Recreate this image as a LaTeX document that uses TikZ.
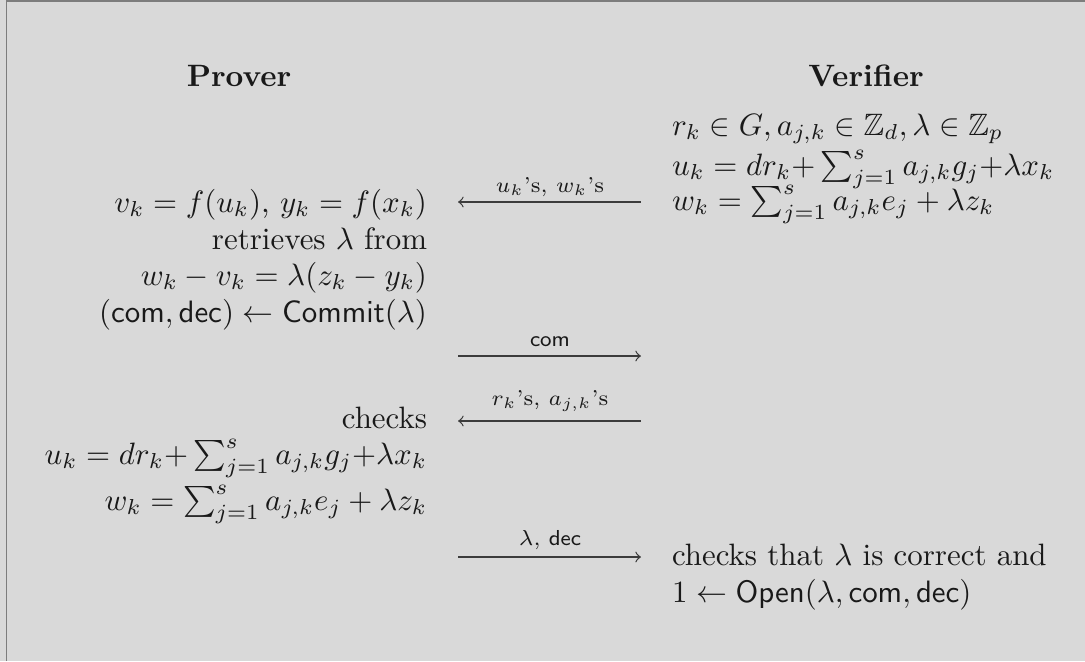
\documentclass[tikz,border=0pt]{standalone}
\usepackage{amsmath,amssymb}
\definecolor{bgcol}{RGB}{217,217,217}
\definecolor{framecol}{RGB}{125,125,125}
\definecolor{inkcol}{RGB}{25,25,25}
\definecolor{arrcol}{RGB}{60,60,60}
\begin{document}
\begin{tikzpicture}[x=0.3236pt,y=-0.3236pt,
  txt/.style={inner sep=0pt, outer sep=0pt, text=inkcol, font=\normalsize},
  lbl/.style={inner sep=0pt, outer sep=0pt, text=inkcol, font=\scriptsize, anchor=base},
  msg/.style={draw=arrcol, line width=0.4pt}]
\fill[bgcol] (0,0) rectangle (1085,661);
\useasboundingbox (0,0) rectangle (1085,661);
\draw[framecol, line width=0.55pt] (6.6,661) -- (6.6,0.9) -- (1085,0.9);
% headers
\node[txt, anchor=base] (prover) at (239,86) {\textbf{Prover}};
\node[txt, anchor=base] (verifier) at (866,86) {\textbf{Verifier}};
% prover column
\node[txt, anchor=base east] (p1) at (427,212) {$v_k = f(u_k)$, $y_k = f(x_k)$};
\node[txt, anchor=base east] (p2) at (427,249) {retrieves $\lambda$ from};
\node[txt, anchor=base east] (p3) at (427,285) {$w_k - v_k = \lambda(z_k - y_k)$};
\node[txt, anchor=base east] (p4) at (427,322) {$(\mathsf{com},\mathsf{dec}) \leftarrow \mathsf{Commit}(\lambda)$};
\node[txt, anchor=base east] (p5) at (427,428) {checks};
\node[txt, anchor=base east] (p6) at (427,464) {$u_k = dr_k{+}\sum_{j=1}^s a_{j,k}g_j{+}\lambda x_k$};
\node[txt, anchor=base east] (p7) at (427,510) {$w_k = \sum_{j=1}^s a_{j,k}e_j + \lambda z_k$};
% verifier column
\node[txt, anchor=base west] (v1) at (672,135) {$r_k \in G, a_{j,k} \in \mathbb{Z}_d, \lambda \in \mathbb{Z}_p$};
\node[txt, anchor=base west] (v2) at (672,175) {$u_k = dr_k{+}\sum_{j=1}^s a_{j,k}g_j{+}\lambda x_k$};
\node[txt, anchor=base west] (v3) at (672,210) {$w_k = \sum_{j=1}^s a_{j,k}e_j + \lambda z_k$};
\node[txt, anchor=base west] (v4) at (672,565) {checks that $\lambda$ is correct and};
\node[txt, anchor=base west] (v5) at (672,602) {$1 \leftarrow \mathsf{Open}(\lambda,\mathsf{com},\mathsf{dec})$};
% messages
\coordinate (m1l) at (458,202); \coordinate (m1r) at (641,202);
\coordinate (m2l) at (458,356); \coordinate (m2r) at (641,356);
\coordinate (m3l) at (458,421); \coordinate (m3r) at (641,421);
\coordinate (m4l) at (458,557); \coordinate (m4r) at (641,557);
\draw[msg, <-] (m1l) -- (m1r);
\draw[msg, ->] (m2l) -- (m2r);
\draw[msg, <-] (m3l) -- (m3r);
\draw[msg, ->] (m4l) -- (m4r);
\node[lbl] (l1) at (550,192) {$u_k$'s, $w_k$'s};
\node[lbl] (l2) at (550,346) {$\mathsf{com}$};
\node[lbl] (l3) at (550,405) {$r_k$'s, $a_{j,k}$'s};
\node[lbl] (l4) at (550,545) {$\lambda$, $\mathsf{dec}$};
\end{tikzpicture}
\end{document}
